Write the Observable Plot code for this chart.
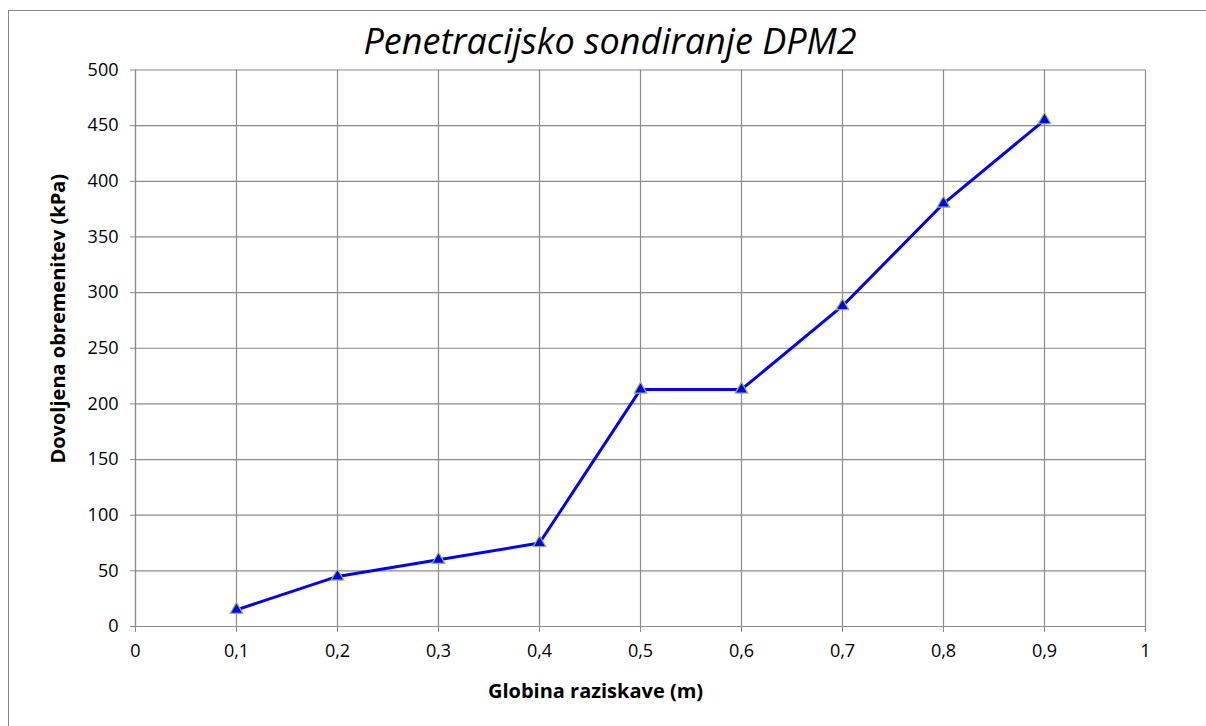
<!DOCTYPE html>
<html><head><meta charset="utf-8">
<script src="https://cdn.jsdelivr.net/npm/d3@7"></script>
<script src="https://cdn.jsdelivr.net/npm/@observablehq/plot@0.6"></script>
<style>
body{margin:0;background:#fff;}
#wrap{position:relative;width:1206px;height:726px;overflow:hidden;background:#fff;}
#border{position:absolute;left:8px;top:10px;width:1300px;height:800px;border:1.5px solid #8a8a8a;box-sizing:border-box;}
#title{position:absolute;left:0;width:1220px;top:16px;text-align:center;font-family:"Open Sans",sans-serif;font-style:italic;font-size:36px;color:#000;white-space:nowrap;}
#chart{position:absolute;left:0;top:0;}
</style>
</head><body>
<div id="wrap"><div id="border"></div><div id="chart"></div><div id="title"></div></div>
<script>
const titleText = "Penetracijsko sondiranje DPM2";
const xLabel = "Globina raziskave (m)";
const yLabel = "Dovoljena obremenitev (kPa)";
const depth = [0.1, 0.2, 0.3, 0.4, 0.5, 0.6, 0.7, 0.8, 0.9];
const load = [15, 45, 60, 75, 213, 213, 288, 380, 455];
const xTicks = [0, 0.1, 0.2, 0.3, 0.4, 0.5, 0.6, 0.7, 0.8, 0.9, 1];
const yTicks = [0, 50, 100, 150, 200, 250, 300, 350, 400, 450, 500];

document.getElementById("title").textContent = titleText;
const data = depth.map((d, i) => ({depth: d, load: load[i]}));
const grid = "#8a8a8a";
const fmt = d => String(d).replace(".", ",");

const chart = Plot.plot({
  width: 1206,
  height: 726,
  marginLeft: 135,
  marginRight: 61,
  marginTop: 69.5,
  marginBottom: 100,
  style: {fontFamily: "Open Sans, sans-serif", fontSize: "18px", color: "#000", background: "transparent"},
  x: {domain: [0, 1], ticks: xTicks, tickFormat: fmt},
  y: {domain: [0, 500], ticks: yTicks},
  marks: [
    Plot.gridX(xTicks, {stroke: grid, strokeOpacity: 1, strokeWidth: 1.2}),
    Plot.gridY(yTicks, {stroke: grid, strokeOpacity: 1, strokeWidth: 1.2}),
    Plot.ruleX([0], {stroke: grid, strokeWidth: 1.2}),
    Plot.ruleY([0], {stroke: grid, strokeWidth: 1.2}),
    Plot.axisX(xTicks, {tickFormat: fmt, tickSize: 6, tickPadding: 12, stroke: grid, label: null, fontSize: 18}),
    Plot.axisY(yTicks, {tickSize: 5, tickPadding: 12, stroke: grid, label: null, fontSize: 18}),
    Plot.line(data, {x: "depth", y: "load", stroke: "#0000FF", strokeWidth: 3}),
    Plot.dot(data, {x: "depth", y: "load", symbol: "triangle", r: 4.7, fill: "#0000FF", stroke: "#9BBB59", strokeWidth: 1.2}),
    Plot.text([xLabel], {frameAnchor: "bottom", dx: -45, dy: 65, fontWeight: "bold", fontSize: 20, fontFamily: "Open Sans, sans-serif", lineAnchor: "middle"}),
    Plot.text([yLabel], {frameAnchor: "left", textAnchor: "middle", dx: -77, dy: -29.5, rotate: -90, fontWeight: "bold", fontSize: 20, fontFamily: "Open Sans, sans-serif", lineAnchor: "middle"})
  ]
});
document.getElementById("chart").append(chart);
</script>
</body></html>
